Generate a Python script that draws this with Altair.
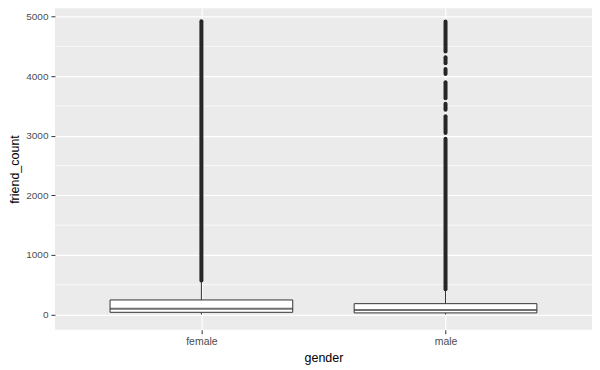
import altair as alt
import pandas as pd

# --- data ---
genders = ["female", "male"]
q1 = [37, 27]
median = [96, 74]
q3 = [244, 182]
whisker_lo = [0, 0]
whisker_hi = [552, 414]

# outliers: dense stacks of points, read as continuous spans (start, end)
run_gender = ["female", "male", "male", "male", "male", "male", "male", "male"]
run_start = [570, 4414, 4218, 4038, 3631, 3435, 3045, 425]
run_end = [4923, 4917, 4318, 4122, 3899, 3536, 3329, 2949]

y_ticks = [0, 1000, 2000, 3000, 4000, 5000]
y_minor = [500, 1500, 2500, 3500, 4500]

box = pd.DataFrame(dict(gender=genders, q1=q1, median=median, q3=q3,
                        lo=whisker_lo, hi=whisker_hi))
runs = pd.DataFrame(dict(gender=run_gender, start=run_start, end=run_end))
minor = pd.DataFrame(dict(v=y_minor))

FONT = "Liberation Sans"
DARK = "#333333"

xscale = alt.Scale(type="point", domain=genders, padding=0.6)
yscale = alt.Scale(domain=[-256, 5139], nice=False, zero=False)

x_axis = alt.Axis(grid=True, gridColor="white", gridWidth=1.2,
                  labelAngle=0, tickSize=4, tickColor=DARK,
                  labelColor="#4d4d4d", labelFontSize=10.5,
                  labelPadding=3, titleFontSize=12.5, titlePadding=4,
                  titleColor="black", titleFontWeight="normal",
                  domain=False, labelFont=FONT, titleFont=FONT)
y_axis = alt.Axis(values=y_ticks, format="d", grid=True, gridColor="white",
                  gridWidth=1.2, tickSize=4, tickColor=DARK,
                  labelColor="#4d4d4d", labelFontSize=10,
                  labelPadding=3, titleFontSize=12.5, titlePadding=4,
                  titleColor="black", titleFontWeight="normal",
                  domain=False, labelFont=FONT, titleFont=FONT)


def X():
    return alt.X("gender:N", scale=xscale, title="gender", axis=x_axis)


def Y(field):
    return alt.Y(field, scale=yscale, title="friend_count", axis=y_axis)


minor_layer = alt.Chart(minor).mark_rule(color="white", strokeWidth=0.7).encode(
    y=Y("v:Q")
)
whisk_hi = alt.Chart(box).mark_rule(color=DARK, strokeWidth=1).encode(
    x=X(), y=Y("q3:Q"), y2="hi:Q"
)
whisk_lo = alt.Chart(box).mark_rule(color=DARK, strokeWidth=1).encode(
    x=X(), y=Y("lo:Q"), y2="q1:Q"
)
boxes = alt.Chart(box).mark_bar(size=183, fill="white", stroke=DARK,
                                strokeWidth=1).encode(
    x=X(), y=Y("q1:Q"), y2="q3:Q"
)
med = alt.Chart(box).mark_tick(size=183, thickness=2, color=DARK).encode(
    x=X(), y=Y("median:Q")
)
outl = alt.Chart(runs).mark_rule(color="#262626", strokeWidth=4,
                                 strokeCap="round").encode(
    x=X(), y=Y("start:Q"), y2="end:Q"
)

chart = alt.layer(minor_layer, whisk_hi, whisk_lo, boxes, med, outl).properties(
    width=538, height=322,
    autosize=alt.AutoSizeParams(type="none"),
    padding={"left": 47, "top": 0, "right": 0, "bottom": 40},
).configure_view(fill="#EBEBEB", stroke=None)

chart.save("out.html", embed_options={"renderer": "svg", "actions": False})
